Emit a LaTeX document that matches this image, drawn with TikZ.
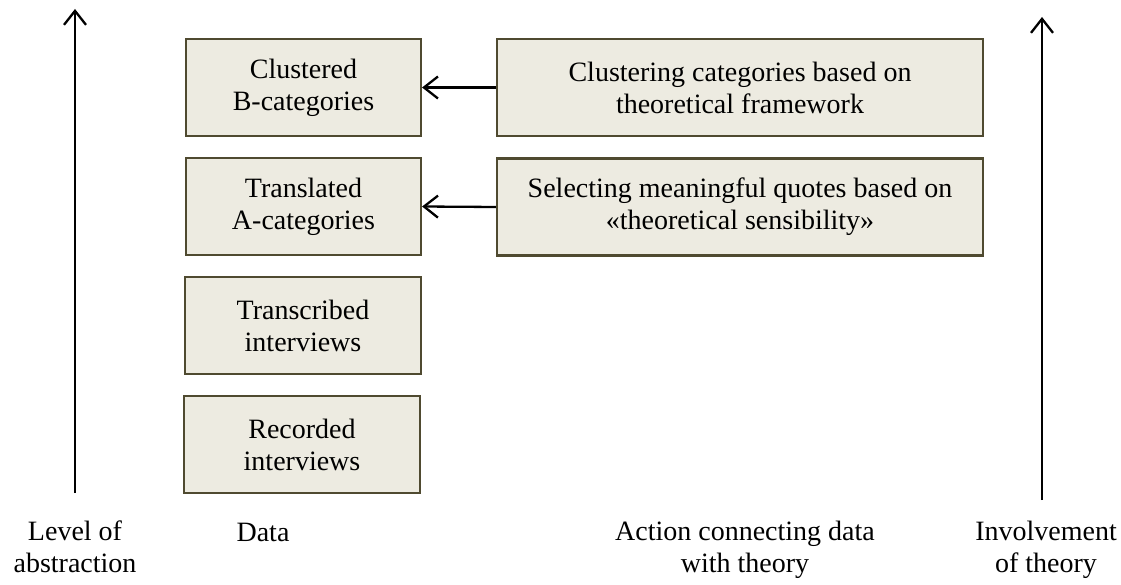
\documentclass[tikz,border=0pt]{standalone}
\usepackage{fontspec}
\setmainfont{Liberation Serif}
\usetikzlibrary{arrows.meta}
\definecolor{boxfill}{HTML}{EDEBE1}
\definecolor{boxline}{HTML}{4F4A30}
\begin{document}
\begin{tikzpicture}[x=1pt,y=-1pt,
  box/.style={draw=boxline,fill=boxfill,line width=2.2pt,align=center,font=\fontsize{28}{32}\selectfont,inner sep=0pt},
  lbl/.style={align=center,font=\fontsize{28}{32}\selectfont,anchor=north,inner sep=0pt},
  arr/.style={line width=2.3pt,-{Straight Barb[length=14pt,width=22pt]}}]
\useasboundingbox (0,0) rectangle (1121,585);
\node[box,minimum width=235pt,minimum height=97pt] (b1) at (303.5,87.5) {Clustered\\B-categories};
\node[box,minimum width=235pt,minimum height=97pt] (b2) at (303.5,206.5) {Translated\\A-categories};
\node[box,minimum width=236pt,minimum height=97pt] (b3) at (303,325.5) {Transcribed\\interviews};
\node[box,minimum width=236pt,minimum height=97pt] (b4) at (302,444.5) {Recorded\\interviews};
\node[box,minimum width=486pt,minimum height=97pt] (a1) at (740,87.5) {Clustering categories based on\\theoretical framework};
\node[box,minimum width=486pt,minimum height=97pt] (a2) at (740,207) {Selecting meaningful quotes based on\\«theoretical sensibility»};
\draw[arr] (a1.west) -- (b1.east);
\draw[arr] (a2.west) -- (b2.east);
\coordinate (l0) at (75,493);
\coordinate (l1) at (75,9);
\coordinate (r0) at (1042,500);
\coordinate (r1) at (1042,17);
\draw[arr] (l0) -- (l1);
\draw[arr] (r0) -- (r1);
\node[lbl] (t1) at (75,521) {Level of\\abstraction};
\node[lbl,anchor=base] (t2) at (263,541) {Data};
\node[lbl] (t3) at (745,521) {Action connecting data\\with theory};
\node[lbl] (t4) at (1046,521) {Involvement\\of theory};
\end{tikzpicture}
\end{document}
